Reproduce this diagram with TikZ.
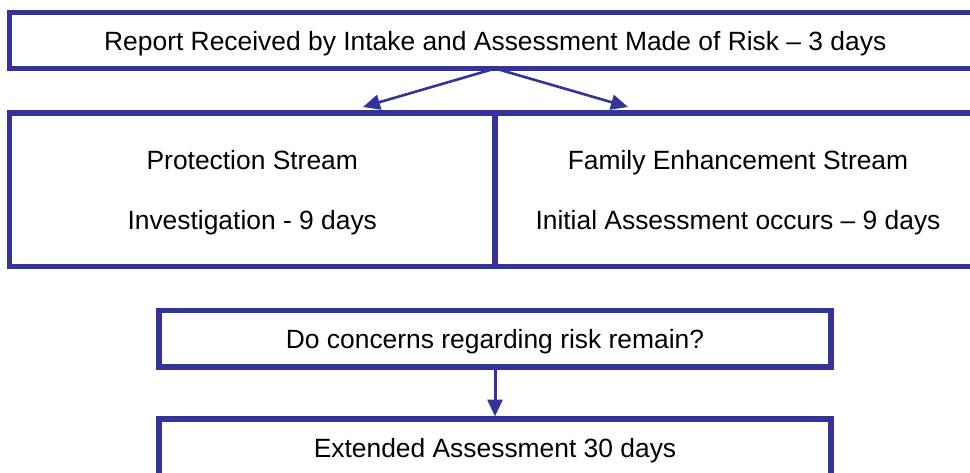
\documentclass[tikz,border=0pt]{standalone}
\usepackage{fontspec}
\setmainfont{Liberation Sans}
\usepackage{tikz}
\usetikzlibrary{
  positioning,
  arrows.meta
}
\usepackage{xcolor}
\definecolor{boxblue}{RGB}{51,51,153}

\begin{document}
\begin{tikzpicture}[x=1pt,y=-1pt,node distance=52pt,>={Triangle[length=17pt,width=15pt]},
    box/.style={draw=boxblue,line width=5.5pt,rectangle,inner sep=0pt,outer sep=0pt,
        align=center,font=\fontsize{26.4}{60}\selectfont,text height=22.3pt,text depth=2.6pt},
    streambox/.style={box,text height=82.3pt},
    link/.style={->,draw=boxblue,fill=boxblue,line width=2.6pt}]

        \useasboundingbox (0,0) rectangle (970,473);

        \node[box,minimum width=971.5pt,minimum height=56pt] (report) at (495.25,40.5)
            {Report Received by Intake and Assessment Made of Risk -- 3 days};

        \node[streambox,minimum width=485.5pt,minimum height=153.5pt] (prot) at (252.25,189.75)
            {Protection Stream\\Investigation - 9 days};
        \node[streambox,minimum width=486pt,minimum height=153.5pt,right=0pt of prot] (family)
            {Family Enhancement Stream\\Initial Assessment occurs -- 9 days};

        \node[box,minimum width=672pt,minimum height=56.5pt] (concern) at (495,338.75)
            {Do concerns regarding risk remain?};
        \node[box,minimum width=672pt,minimum height=56.5pt,below=of concern] (extended)
            {Extended Assessment 30 days};

        % arrow ends above the two streams
        \coordinate (protin) at (363,107);
        \coordinate (familyin) at (628,107);

        \draw[link] (report.south) -- (protin);
        \draw[link] (report.south) -- (familyin);
        \draw[link,line width=3pt,shorten >=2.5pt] (concern.south) -- (extended.north);
    \end{tikzpicture}
\end{document}
